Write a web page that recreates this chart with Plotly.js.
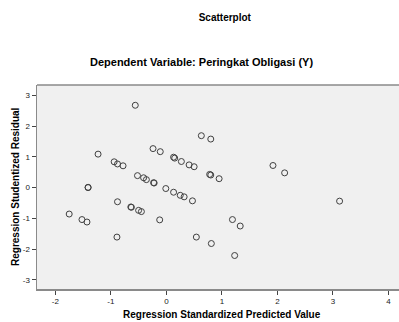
<!DOCTYPE html>
<html>
<head>
<meta charset="utf-8">
<script src="https://cdn.plot.ly/plotly-3.0.1.min.js"></script>
<style>html,body{margin:0;padding:0;background:#fff;}#chart{width:399px;height:322px;}</style>
</head>
<body>
<div id="chart"></div>
<script>
// Regression standardized predicted values (x) and studentized residuals (y)
const predicted = [-0.56, -0.24, -1.23, -0.94, -0.88, -0.78, -0.52, -0.41, -0.36, -0.23, -0.22,
  -1.41, -1.41, 0.63, 0.80, -0.11, 0.13, 0.15, 0.27, 0.41, 0.50, 0.78, 0.80, 0.95,
  -0.01, 0.13, 0.25, 0.32, 0.47, -0.88, -0.64, -0.63, -0.50, -0.45, -1.75, -1.52, -1.43,
  -0.89, -0.12, 1.19, 1.33, 0.54, 0.81, 1.23, 1.92, 2.13, 3.12];
const residual = [2.68, 1.27, 1.09, 0.84, 0.77, 0.71, 0.39, 0.32, 0.26, 0.16, 0.15,
  0.01, 0.00, 1.69, 1.58, 1.17, 0.99, 0.96, 0.85, 0.74, 0.68, 0.43, 0.41, 0.29,
  -0.03, -0.15, -0.25, -0.30, -0.43, -0.46, -0.63, -0.64, -0.74, -0.78, -0.86, -1.04, -1.12,
  -1.61, -1.05, -1.04, -1.25, -1.61, -1.82, -2.21, 0.72, 0.48, -0.44];
const xTickVals = [-2, -1, 0, 1, 2, 3, 4];
const xTickText = ["-2", "-1", "0", "1", "2", "3", "4"];
const yTickVals = [-3, -2, -1, 0, 1, 2, 3];
const yTickText = ["-3", "-2", "-1", "0", "1", "2", "3"];
const chartTitle = "Scatterplot";
const subTitle = "Dependent Variable: Peringkat Obligasi (Y)";
const xTitle = "Regression Standardized Predicted Value";
const yTitle = "Regression Studentized Residual";

const FONT = "Liberation Sans, Arial, sans-serif";
const trace = {
  x: predicted, y: residual, type: "scatter", mode: "markers",
  marker: {symbol: "circle-open", size: 6, color: "#404040", line: {width: 1, color: "#404040"}},
  hoverinfo: "x+y"
};
const axisCommon = {
  showgrid: false, zeroline: false, showline: true, linecolor: "#8a8a8a", linewidth: 1.5,
  ticks: "outside", ticklen: 4, tickcolor: "#444", tickwidth: 1,
  tickfont: {family: FONT, size: 8, color: "#222"}, tickmode: "array", fixedrange: true
};
const layout = {
  width: 399, height: 322,
  margin: {l: 37, r: 0, t: 85, b: 33, pad: 0},
  paper_bgcolor: "#ffffff", plot_bgcolor: "#f0f0f0",
  showlegend: false,
  title: {text: "<b>" + chartTitle + "</b>", font: {family: FONT, size: 10, color: "#000"},
    x: 207/399, xanchor: "center", y: 1 - 17/322, yanchor: "middle", xref: "paper", yref: "container"},
  xaxis: Object.assign({}, axisCommon, {range: [-2.33, 4.19], tickvals: xTickVals, ticktext: xTickText, mirror: false}),
  yaxis: Object.assign({}, axisCommon, {range: [-3.30, 3.34], tickvals: yTickVals, ticktext: yTickText}),
  shapes: [{type: "line", xref: "paper", yref: "paper", x0: 0, x1: 1, y0: 1, y1: 1, line: {color: "#8a8a8a", width: 1.5}}],
  annotations: [
    {text: "<b>" + subTitle + "</b>", xref: "paper", yref: "paper", x: (201-37)/362, y: (289-62)/203.7,
      xanchor: "center", yanchor: "middle", showarrow: false, font: {family: FONT, size: 11, color: "#000"}},
    {text: "<b>" + xTitle + "</b>", xref: "paper", yref: "paper", x: (222-37)/362, y: (289-314)/203.7,
      xanchor: "center", yanchor: "middle", showarrow: false, font: {family: FONT, size: 10, color: "#000"}},
    {text: "<b>" + yTitle + "</b>", xref: "paper", yref: "paper", x: (15-37)/362, y: 0.5, textangle: -90,
      xanchor: "center", yanchor: "middle", showarrow: false, font: {family: FONT, size: 10, color: "#000"}}
  ]
};
Plotly.newPlot("chart", [trace], layout, {displayModeBar: false, staticPlot: true});
</script>
</body>
</html>
